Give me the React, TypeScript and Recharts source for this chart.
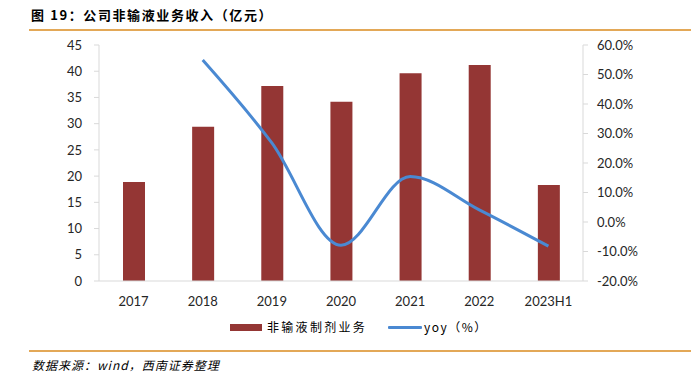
import React from 'react';
import { ComposedChart, Bar, Line, XAxis, YAxis } from 'recharts';

const categories = ['2017', '2018', '2019', '2020', '2021', '2022', '2023H1'];
const revenue = [18.9, 29.4, 37.2, 34.2, 39.6, 41.2, 18.3];
const yoy = [null, 54.9, 26.8, -7.9, 15.4, 4.1, -8.2];
const leftTicks = [0, 5, 10, 15, 20, 25, 30, 35, 40, 45];
const rightTicks = [-20, -10, 0, 10, 20, 30, 40, 50, 60];

const data = categories.map((c, i) => ({ name: c, revenue: revenue[i], yoy: yoy[i] }));

const BAR = '#943634';
const LINE = '#4a89d2';
const AX = '#d9d9d9';
const tickStyle = { fontSize: 13, fill: '#262626', fontFamily: 'Lato, "Open Sans", sans-serif' };

export default function App() {
  return (
    <div style={{ position: 'absolute', left: 0, top: 0, width: 692, height: 377, background: '#fff', fontFamily: '"Noto Sans CJK SC", sans-serif' }}>
      <div style={{ position: 'absolute', left: 31, top: 5, fontSize: 13, fontWeight: 'bold', letterSpacing: 1.6, color: '#000', whiteSpace: 'nowrap' }}>
        图 19：公司非输液业务收入（亿元）
      </div>
      <div style={{ position: 'absolute', left: 29, top: 29, width: 662, height: 2, background: '#e3a857' }} />
      <ComposedChart width={692} height={377} data={data} margin={{ top: 45, right: 0, bottom: 66, left: 0 }} style={{ position: 'absolute', left: 0, top: 0 }}>
        <XAxis dataKey="name" tickLine={false} axisLine={{ stroke: AX }} tick={tickStyle} height={30} tickMargin={10} />
        <YAxis yAxisId="l" orientation="left" width={99} domain={[0, 45]} ticks={leftTicks} interval={0}
          axisLine={{ stroke: AX }} tickLine={{ stroke: AX }} tickSize={5} tickMargin={12} tick={tickStyle} />
        <YAxis yAxisId="r" orientation="right" width={109} domain={[-20, 60]} ticks={rightTicks} interval={0}
          axisLine={{ stroke: AX }} tickLine={{ stroke: AX }} tickSize={5} tickMargin={9}
          tick={tickStyle} tickFormatter={(v: number) => v.toFixed(1) + '%'} />
        <Bar yAxisId="l" dataKey="revenue" fill={BAR} barSize={22} isAnimationActive={false} />
        <Line yAxisId="r" dataKey="yoy" type="monotone" stroke={LINE} strokeWidth={3} dot={false} connectNulls={false} isAnimationActive={false} />
      </ComposedChart>
      <div style={{ position: 'absolute', left: 230, top: 324, width: 32, height: 7, background: BAR }} />
      <div style={{ position: 'absolute', left: 267, top: 318, fontSize: 12, letterSpacing: 2.3, color: '#000', whiteSpace: 'nowrap' }}>非输液制剂业务</div>
      <div style={{ position: 'absolute', left: 388, top: 326, width: 34, height: 3, background: LINE, borderRadius: 1 }} />
      <div style={{ position: 'absolute', left: 424, top: 318, fontSize: 12, letterSpacing: 1.5, color: '#000', whiteSpace: 'nowrap' }}>yoy（%）</div>
      <div style={{ position: 'absolute', left: 29, top: 350, width: 662, height: 2, background: '#e3a857' }} />
      <div style={{ position: 'absolute', left: 32, top: 356, fontSize: 12, fontStyle: 'italic', letterSpacing: 1, color: '#000', whiteSpace: 'nowrap' }}>数据来源：wind，西南证券整理</div>
    </div>
  );
}
